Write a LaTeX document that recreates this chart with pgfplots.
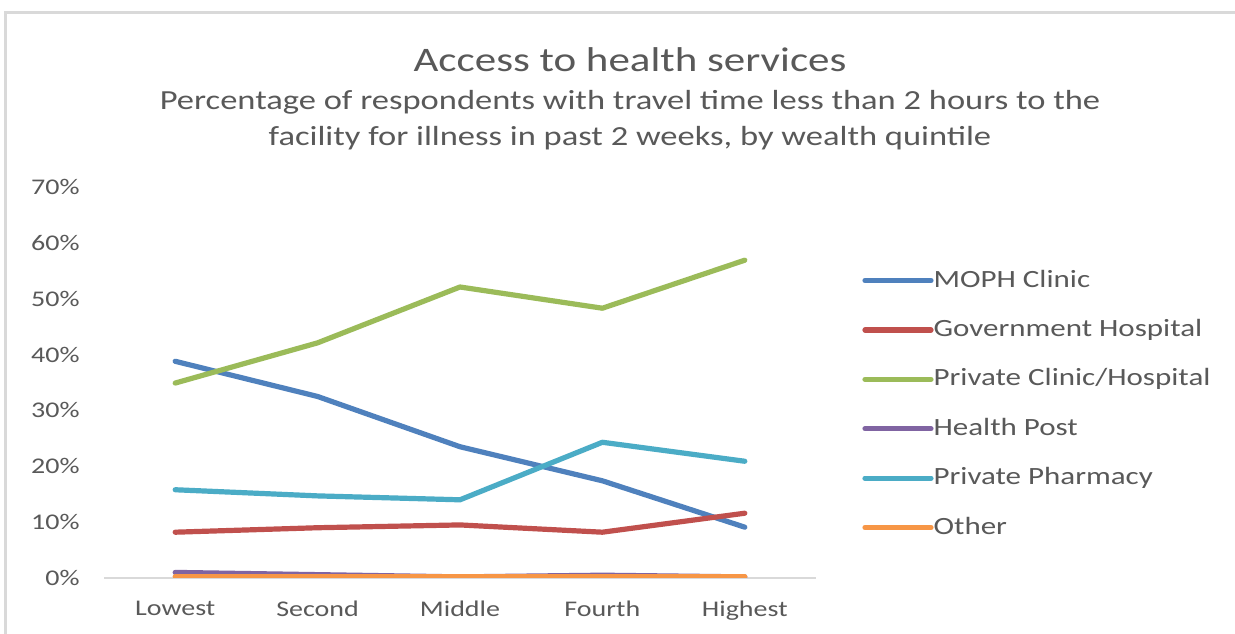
\documentclass[border=0pt]{standalone}
\usepackage{pgfplots}
\pgfplotsset{compat=1.18}
\usepackage{fontspec}
\setmainfont{Carlito}[FakeStretch=1.25]
\definecolor{txt}{HTML}{595959}
\definecolor{frame}{HTML}{D9D9D9}
\definecolor{c1}{HTML}{4F81BD}
\definecolor{c2}{HTML}{C0504D}
\definecolor{c3}{HTML}{9BBB59}
\definecolor{c4}{HTML}{8064A2}
\definecolor{c5}{HTML}{4BACC6}
\definecolor{c6}{HTML}{F79646}
\begin{document}
\begin{tikzpicture}
\path[use as bounding box] (0,0) rectangle (617.5bp,317bp);
\fill[white] (0,0) rectangle (617.5bp,317bp);
\draw[frame, line width=1.5bp] (2.5bp,0) -- (2.5bp,310.5bp) -- (617.5bp,310.5bp);
\node[anchor=base, text=txt, font=\fontsize{17.2bp}{20bp}\selectfont, inner sep=0pt] at (315bp,281bp) {Access to health services};
\node[anchor=base, text=txt, font=\fontsize{13.8bp}{16bp}\selectfont, inner sep=0pt] at (315bp,262bp) {Percentage of respondents with travel time less than 2 hours to the};
\node[anchor=base, text=txt, font=\fontsize{13.8bp}{16bp}\selectfont, inner sep=0pt] at (315bp,244.2bp) {facility for illness in past 2 weeks, by wealth quintile};
\begin{axis}[
  at={(52bp,28bp)}, anchor=south west,
  scale only axis, width=356bp, height=195.5bp,
  xmin=-0.5, xmax=4.5, ymin=0, ymax=70,
  axis x line*=bottom, axis y line*=left,
  x axis line style={draw=frame, line width=1bp, -},
  y axis line style={draw=none},
  major tick length=0pt,
  xtick={0,1,2,3,4},
  xticklabels={Lowest,Second,Middle,Fourth,Highest},
  ytick={0,10,20,30,40,50,60,70},
  yticklabels={0\%,10\%,20\%,30\%,40\%,50\%,60\%,70\%},
  tick label style={text=txt, font=\fontsize{11.2bp}{13bp}\selectfont},
  y tick label style={inner sep=0pt, anchor=east, xshift=-12bp},
  x tick label style={inner sep=0pt, anchor=north, yshift=-11.5bp},
  legend style={at={(1.0646,0.445)}, anchor=west, draw=none, fill=none, inner sep=0pt,
    font=\fontsize{12.4bp}{14bp}\selectfont, text=txt,
    row sep=14.2bp,
    nodes={inner sep=0pt, text height=8.5bp, text depth=2bp}},
  legend cell align=left,
  legend image code/.code={\draw[#1] (0bp,0bp) -- (33bp,0bp);},
  /tikz/every even column/.append style={column sep=0.5bp},
  every axis plot/.append style={line width=2.6bp, line cap=round, line join=round},
]
\addplot[c1] coordinates {(0,38.8) (1,32.5) (2,23.5) (3,17.4) (4,9.1)};
\addlegendentry{MOPH Clinic}
\addplot[c2] coordinates {(0,8.2) (1,9.0) (2,9.5) (3,8.2) (4,11.6)};
\addlegendentry{Government Hospital}
\addplot[c3] coordinates {(0,34.9) (1,42.1) (2,52.1) (3,48.3) (4,56.9)};
\addlegendentry{Private Clinic/Hospital}
\addplot[c4] coordinates {(0,1.0) (1,0.6) (2,0.2) (3,0.5) (4,0.2)};
\addlegendentry{Health Post}
\addplot[c5] coordinates {(0,15.8) (1,14.7) (2,14.0) (3,24.3) (4,20.9)};
\addlegendentry{Private Pharmacy}
\addplot[c6] coordinates {(0,0.2) (1,0.2) (2,0.2) (3,0.2) (4,0.2)};
\addlegendentry{Other}
\end{axis}
\end{tikzpicture}
\end{document}
